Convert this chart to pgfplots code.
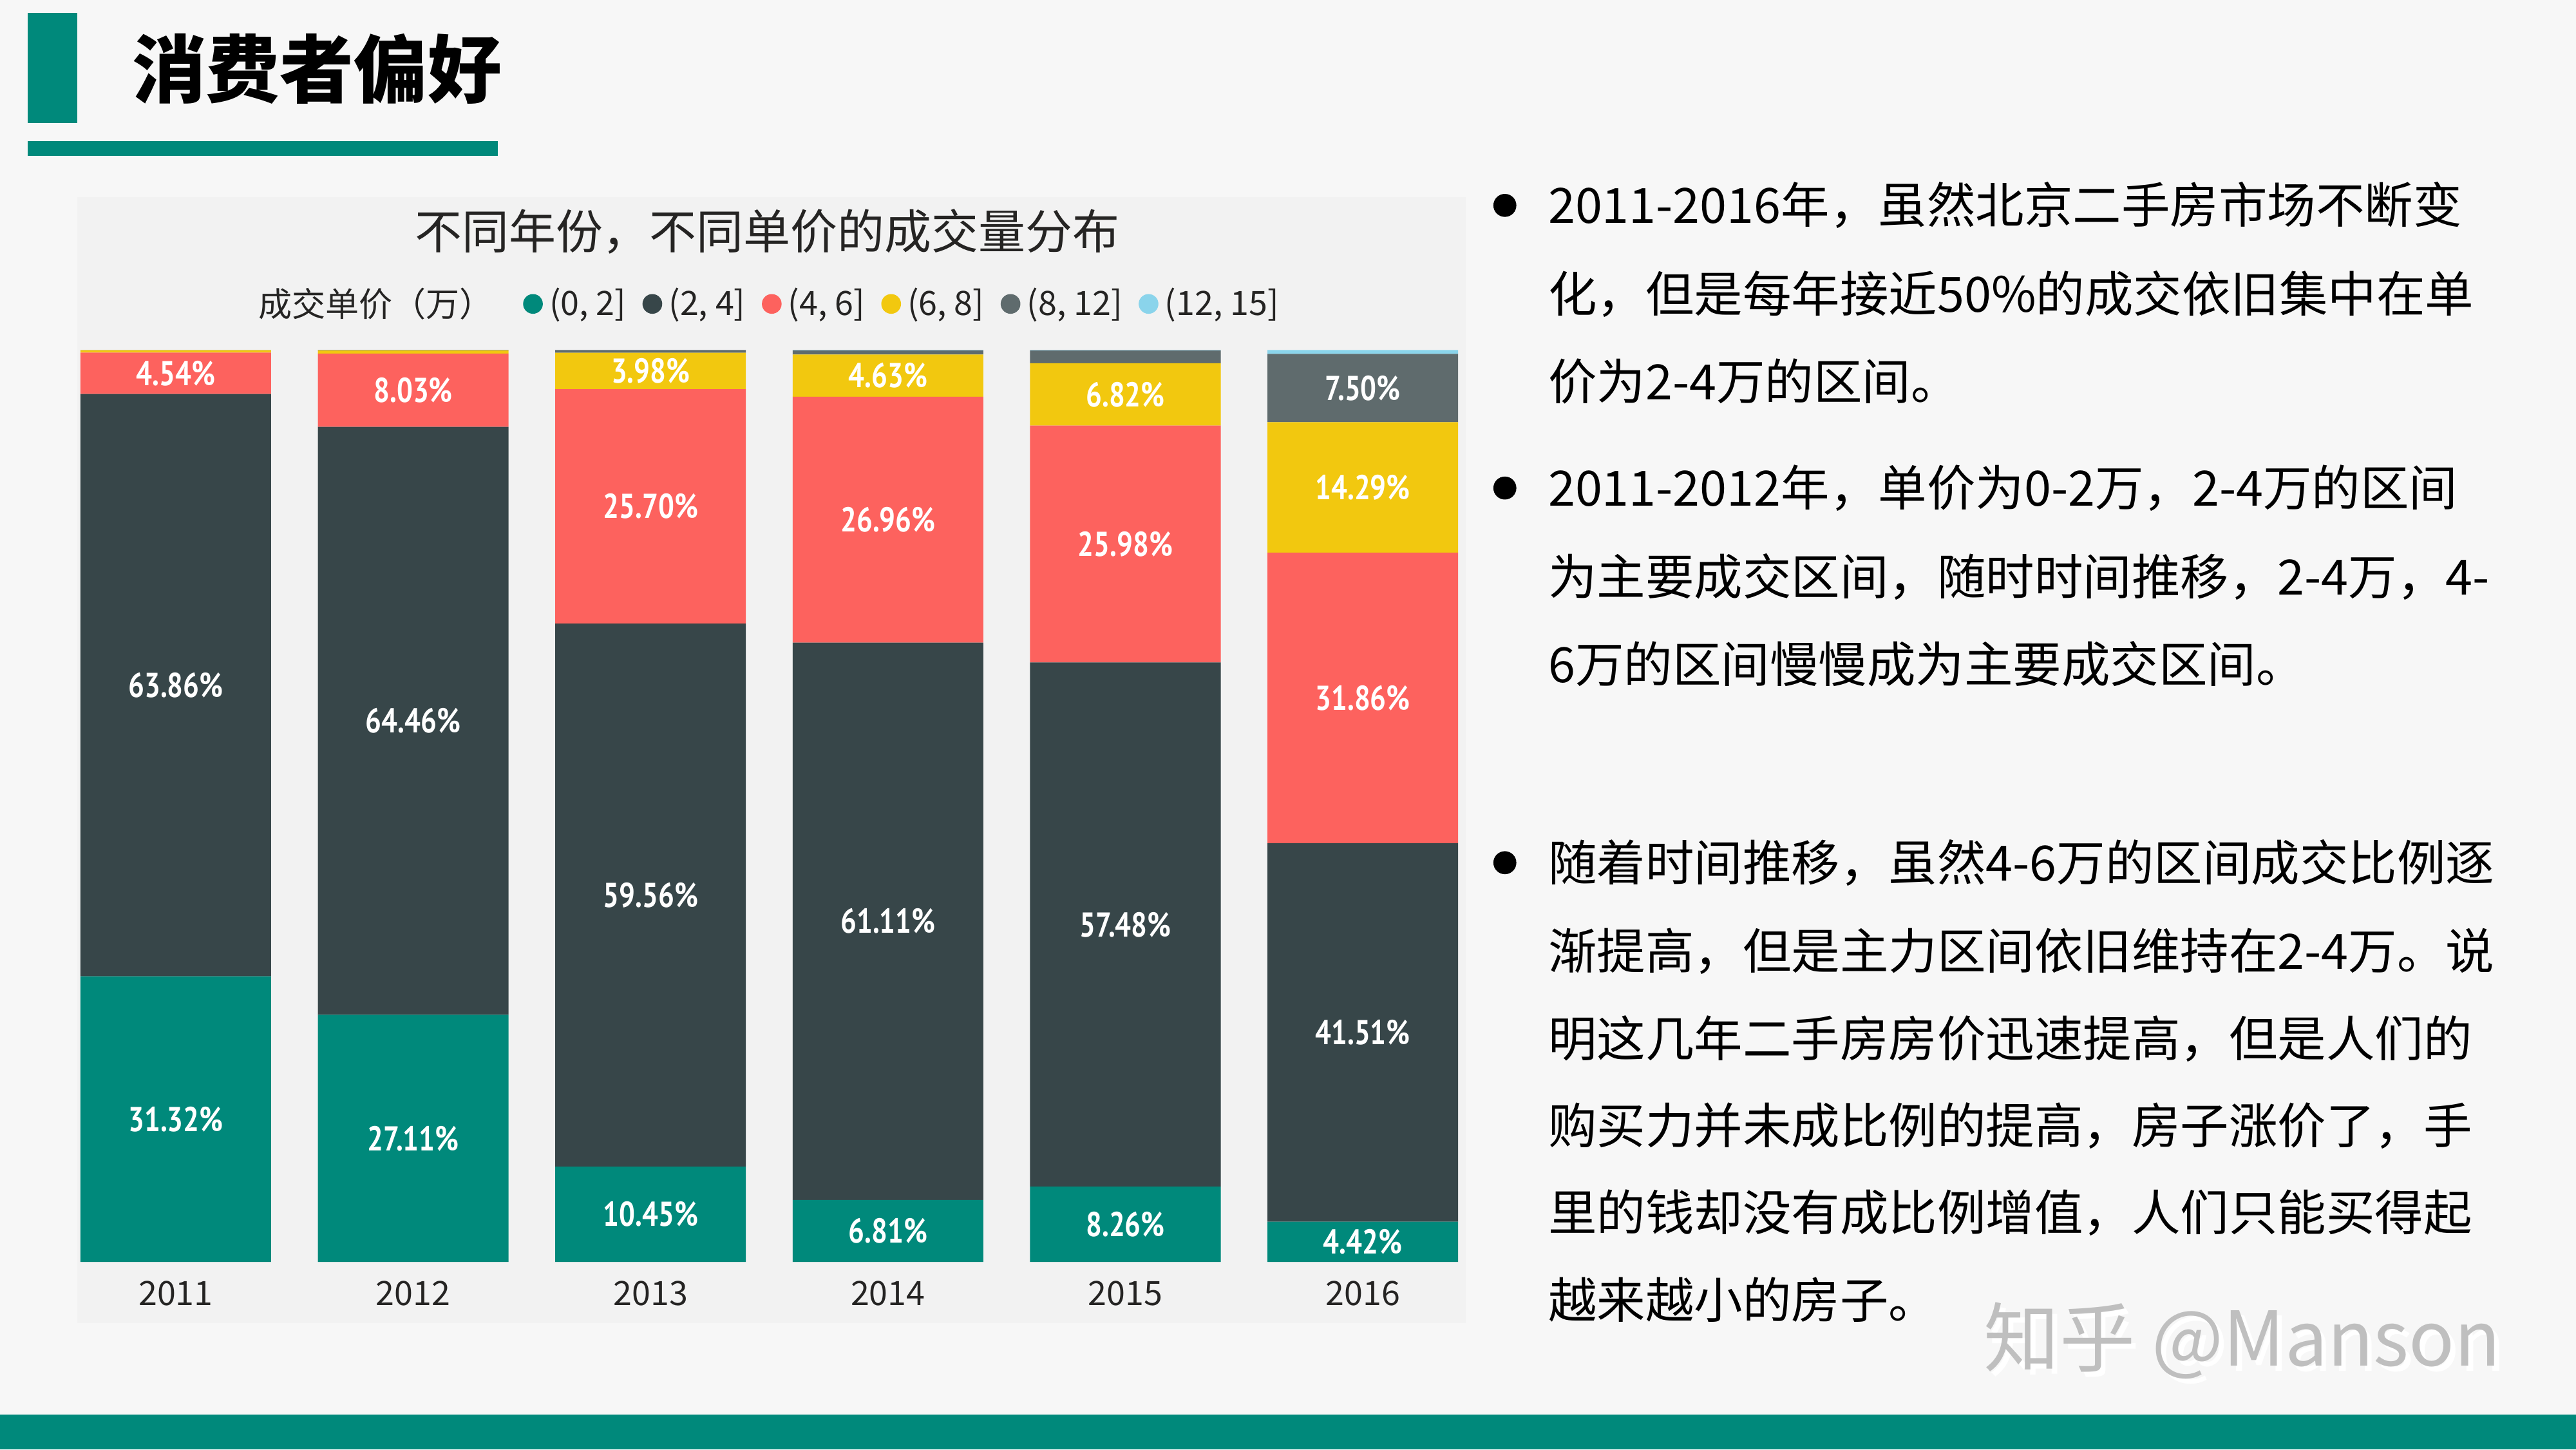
\documentclass[border=0pt]{standalone}
\usepackage{pgfplots}
\pgfplotsset{compat=1.18}
\usepackage{fontspec}
\setmainfont{Noto Sans CJK SC}
\newfontfamily\lblfont[FakeStretch=0.82]{PT Sans}

\definecolor{bgc}{HTML}{F7F7F7}
\definecolor{panel}{HTML}{F2F2F2}
\definecolor{deco}{HTML}{00897B}
\definecolor{txt}{HTML}{252423}
\definecolor{c1}{HTML}{00897B}
\definecolor{c2}{HTML}{374649}
\definecolor{c3}{HTML}{FD625E}
\definecolor{c4}{HTML}{F2C80F}
\definecolor{c5}{HTML}{5F6B6D}
\definecolor{c6}{HTML}{8AD4EB}

\begin{document}
\begin{tikzpicture}[x=0.5bp,y=0.5bp]
% slide
\fill[bgc] (0,0) rectangle (1568,882);
\useasboundingbox (0,0) rectangle (1568,882);
\fill[deco] (17,807) rectangle (47,874);
\node[anchor=west, inner sep=0pt, font=\bfseries\fontsize{22.5bp}{26bp}\selectfont] at (80,840) {消费者偏好};
\fill[deco] (17,787) rectangle (303,796);
\fill[deco] (0,0) rectangle (1568,21);

% chart panel
\fill[panel] (47,77) rectangle (892,762);
\node[text=txt, font=\fontsize{14.3bp}{17bp}\selectfont] at (467,741) {不同年份，不同单价的成交量分布};
\node[anchor=west, inner sep=0pt, text=txt, font=\fontsize{10.2bp}{12bp}\selectfont] at (157,697) {成交单价（万）};

\begin{axis}[
    at={(17.375bp,57bp)}, anchor=south west,
    scale only axis, width=433.5bp, height=277.5bp,
    ybar stacked, bar width=0.803,
    xmin=-0.5, xmax=5.5, ymin=0, ymax=100,
    axis y line=none, axis x line*=bottom,
    x axis line style={draw=none},
    xtick={0,...,5},
    xticklabels={2011,2012,2013,2014,2015,2016},
    major tick length=0pt,
    xticklabel style={anchor=center, yshift=-9.5bp, text=txt,
        font=\fontsize{10.2bp}{12bp}\selectfont},
    point meta=explicit symbolic,
    nodes near coords,
    every node near coord/.style={anchor=center, text=white, inner sep=0pt,
        font=\lblfont\bfseries\fontsize{10.5bp}{12bp}\selectfont},
    legend style={at={(0.3267,1.0505)}, anchor=west, draw=none, fill=none,
        inner sep=0pt, text=txt, font=\fontsize{10.2bp}{12bp}\selectfont,
        nodes={inner sep=0pt},
        /tikz/every odd column/.style={column sep=2bp},
        /tikz/every even column/.style={column sep=5bp}},
    legend columns=-1,
    legend image code/.code={\fill[#1] (3bp,0bp) circle (3bp);},
]
\addplot[fill=c1, draw=none] coordinates {
    (0,31.32) [31.32\%] (1,27.11) [27.11\%] (2,10.45) [10.45\%]
    (3,6.81) [6.81\%] (4,8.26) [8.26\%] (5,4.42) [4.42\%]};
\addlegendentry{(0, 2]}
\addplot[fill=c2, draw=none] coordinates {
    (0,63.86) [63.86\%] (1,64.46) [64.46\%] (2,59.56) [59.56\%]
    (3,61.11) [61.11\%] (4,57.48) [57.48\%] (5,41.51) [41.51\%]};
\addlegendentry{(2, 4]}
\addplot[fill=c3, draw=none] coordinates {
    (0,4.54) [4.54\%] (1,8.03) [8.03\%] (2,25.70) [25.70\%]
    (3,26.96) [26.96\%] (4,25.98) [25.98\%] (5,31.86) [31.86\%]};
\addlegendentry{(4, 6]}
\addplot[fill=c4, draw=none] coordinates {
    (0,0.25) [] (1,0.35) [] (2,3.98) [3.98\%]
    (3,4.63) [4.63\%] (4,6.82) [6.82\%] (5,14.29) [14.29\%]};
\addlegendentry{(6, 8]}
\addplot[fill=c5, draw=none] coordinates {
    (0,0.03) [] (1,0.05) [] (2,0.30) []
    (3,0.45) [] (4,1.40) [] (5,7.50) [7.50\%]};
\addlegendentry{(8, 12]}
\addplot[fill=c6, draw=none] coordinates {
    (0,0) [] (1,0) [] (2,0.01) []
    (3,0.04) [] (4,0.06) [] (5,0.42) []};
\addlegendentry{(12, 15]}
\end{axis}

% commentary
\begin{scope}[every node/.style={anchor=west, inner sep=0pt, text=black,
    font=\fontsize{14.8bp}{17bp}\selectfont}]
\fill[black] (916,757) circle (7);
\fill[black] (916,585) circle (7);
\fill[black] (916,357) circle (7);
\node at (942,757) {2011-2016年，虽然北京二手房市场不断变};
\node at (942,703) {化，但是每年接近50\%的成交依旧集中在单};
\node at (942,650) {价为2-4万的区间。};
\node at (942,585) {2011-2012年，单价为0-2万，2-4万的区间};
\node at (942,531) {为主要成交区间，随时时间推移，2-4万，4-};
\node at (942,478) {6万的区间慢慢成为主要成交区间。};
\node at (942,357) {随着时间推移，虽然4-6万的区间成交比例逐};
\node at (942,303) {渐提高，但是主力区间依旧维持在2-4万。说};
\node at (942,250) {明这几年二手房房价迅速提高，但是人们的};
\node at (942,197) {购买力并未成比例的提高，房子涨价了，手};
\node at (942,144) {里的钱却没有成比例增值，人们只能买得起};
\node at (942,91) {越来越小的房子。};
\end{scope}

% watermark
\node[text=white, font=\fontsize{23bp}{26bp}\selectfont] at (1368,63) {知乎 @Manson};
\node[text=black!25, font=\fontsize{23bp}{26bp}\selectfont] at (1365,66) {知乎 @Manson};
\end{tikzpicture}
\end{document}
